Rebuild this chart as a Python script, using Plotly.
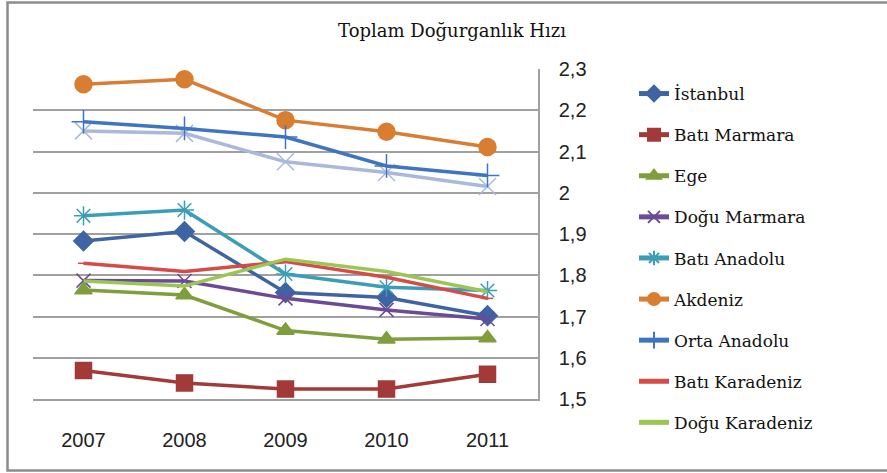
import plotly.graph_objects as go

years = ["2007", "2008", "2009", "2010", "2011"]
names = ["İstanbul", "Batı Marmara", "Ege", "Doğu Marmara", "Batı Anadolu",
         "Akdeniz", "Orta Anadolu", "Batı Karadeniz", "Doğu Karadeniz", "Diğer"]
istanbul = [1.883, 1.906, 1.758, 1.746, 1.702]
bati_marmara = [1.569, 1.539, 1.524, 1.524, 1.560]
ege = [1.764, 1.752, 1.666, 1.645, 1.648]
dogu_marmara = [1.787, 1.786, 1.744, 1.716, 1.694]
bati_anadolu = [1.944, 1.958, 1.803, 1.771, 1.763]
akdeniz = [2.263, 2.275, 2.176, 2.148, 2.111]
orta_anadolu = [2.172, 2.156, 2.135, 2.065, 2.042]
bati_karadeniz = [1.829, 1.809, 1.833, 1.795, 1.744]
dogu_karadeniz = [1.786, 1.774, 1.839, 1.809, 1.760]
diger = [2.150, 2.144, 2.075, 2.049, 2.015]
yticks = [1.5, 1.6, 1.7, 1.8, 1.9, 2.0, 2.1, 2.2, 2.3]
yticklabels = ["1,5", "1,6", "1,7", "1,8", "1,9", "2", "2,1", "2,2", "2,3"]

series = [istanbul, bati_marmara, ege, dogu_marmara, bati_anadolu,
          akdeniz, orta_anadolu, bati_karadeniz, dogu_karadeniz, diger]
colors = ["#3E64A3", "#A23A38", "#7F9E3C", "#6B4B95", "#3C9EB6",
          "#D97D32", "#3E74C2", "#D44C4A", "#9CC653", "#AAB9DA"]
symbols = ["diamond", "square", "triangle-up", "x-thin-open", "asterisk-open",
           "circle", "cross-thin-open", "line-ew-open", None, "x-thin-open"]
sizes = [15, 16, 15, 14, 16, 17, 17, 8, 0, 17]

fig = go.Figure()
order = [9] + list(range(9))
for i in order:
    n, s = names[i], series[i]
    mk = dict(color=colors[i], size=sizes[i], line=dict(color=colors[i], width=1.5))
    mode = "lines+markers" if symbols[i] else "lines"
    if symbols[i]:
        mk["symbol"] = symbols[i]
    fig.add_trace(go.Scatter(
        x=years, y=s, name=n, mode=mode,
        line=dict(color=colors[i], width=3.5),
        marker=mk, showlegend=(i < 9), legendgroup=n))

L, R, T, B = 33, 538, 69, 399
W, H = 887, 473
pw, ph = R - L, B - T

def px(x):
    return (x - L) / pw

def py(y):
    return (B - y) / ph

fig.add_shape(type="rect", xref="paper", yref="paper",
              x0=px(7.5), x1=px(920), y0=py(470.5), y1=py(2.5),
              line=dict(color="#8C8C8C", width=2.5), layer="below")

fig.update_layout(
    width=W, height=H,
    margin=dict(l=L, r=W - R, t=T, b=H - B, autoexpand=False),
    paper_bgcolor="white", plot_bgcolor="white",
    title=dict(text="Toplam Doğurganlık Hızı", xref="container", yref="container",
               x=452 / W, xanchor="center",
               y=1 - 31 / H, yanchor="middle",
               font=dict(family="DejaVu Serif", size=18, color="#111")),
    showlegend=True,
    legend=dict(x=px(634), y=py(76), xanchor="left", yanchor="top",
                traceorder="grouped", tracegroupgap=16, maxheight=460,
                itemsizing="constant",
                font=dict(family="DejaVu Serif", size=17, color="#111"),
                bgcolor="rgba(0,0,0,0)"),
    xaxis=dict(type="category", range=[-0.5, 4.5], showgrid=False, zeroline=False,
               showline=True, linecolor="#A0A0A0", linewidth=1.5,
               ticks="", automargin=False,
               tickfont=dict(family="Liberation Sans", size=20, color="#222"),
               ticklabelstandoff=22),
    yaxis=dict(side="right", range=[1.5, 2.3], tickvals=yticks,
               ticktext=yticklabels, showgrid=True, gridcolor="#A0A0A0",
               gridwidth=1.5, zeroline=False, showline=True,
               linecolor="#A0A0A0", linewidth=1.5, automargin=False,
               ticks="",
               tickfont=dict(family="Liberation Sans", size=20, color="#222"),
               ticklabelstandoff=15),
)
fig.write_html("out.html", config={"displayModeBar": False},
               post_script="document.body.style.margin='0';")
